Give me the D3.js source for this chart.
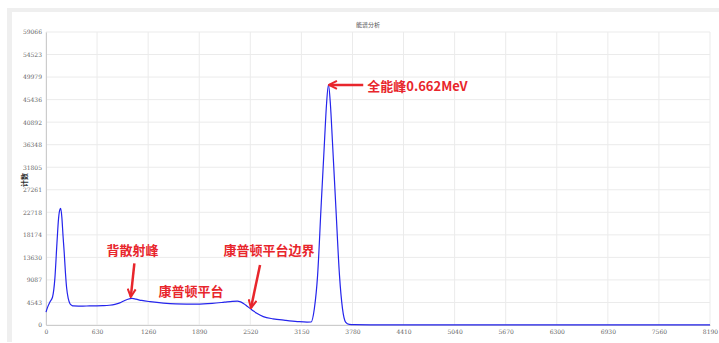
<!DOCTYPE html>
<html lang="zh">
<head>
<meta charset="UTF-8">
<title>能谱分析</title>
<style>
  body { margin: 0; background: #fff; }
  .tick text { font-family: "DejaVu Serif", serif; font-size: 6px; fill: #666; }
  .grid line { stroke: #ebebeb; stroke-width: 1; }
  .note { font-family: "Noto Sans CJK SC", sans-serif; font-weight: 700; fill: #e8262c; font-size: 13px; }
</style>
</head>
<body>
<div id="chart"></div>
<script src="https://d3js.org/d3.v7.min.js"></script>
<script>
// spectrum
const channels = [0, 20, 50, 80, 110, 135, 155, 170, 181, 195, 210, 225, 240, 255, 275, 296, 320, 340,
  400, 500, 600, 700, 780, 850, 910, 960, 1010, 1060, 1110, 1180, 1283, 1447, 1600, 1858, 2050, 2200,
  2300, 2360, 2400, 2440, 2480, 2520, 2560, 2600, 2680, 2800, 2950, 3100, 3220, 3270, 3310, 3350,
  3392, 3435, 3460, 3484, 3508, 3533, 3576, 3620, 3657, 3695, 3740, 3800, 4000, 5000, 6000, 7000, 8190];
const counts = [2600, 3600, 4700, 5600, 9500, 16500, 21500, 23200, 23500, 21800, 18000, 14500, 10500, 7400, 5300, 4300, 3950, 3850,
  3820, 3830, 3860, 3900, 3980, 4150, 4450, 4850, 5200, 5350, 5200, 4950, 4700, 4400, 4250, 4200, 4350, 4600,
  4780, 4800, 4650, 4300, 3800, 3300, 2800, 2350, 1700, 1250, 950, 700, 580, 600, 3300, 10000,
  23500, 37000, 44500, 48400, 44500, 37000, 23500, 10000, 3300, 600, 120, 60, 45, 40, 40, 40, 40];

const xTicks = [0, 630, 1260, 1890, 2520, 3150, 3780, 4410, 5040, 5670, 6300, 6930, 7560, 8190];
const yTicks = [0, 4543, 9087, 13630, 18174, 22718, 27261, 31805, 36348, 40892, 45436, 49979, 54523, 59066];

const notes = [
  { text: "全能峰0.662MeV", ch: 3963, v: 48200, anchor: "start", from: [3913, 48400], to: [3490, 48400] },
  { text: "背散射峰", ch: 1067, v: 14975, anchor: "middle", from: [1090, 12430], to: [1046, 5660] },
  { text: "康普顿平台", ch: 1788, v: 6712, anchor: "middle", from: null, to: null },
  { text: "康普顿平台边界", ch: 2750, v: 14975, anchor: "middle", from: [2640, 12100], to: [2528, 3430] }
];

const W = 719, H = 343;
const margin = { left: 46, right: 9, top: 32, bottom: 18 };

const svg = d3.select("#chart").append("svg").attr("width", W).attr("height", H);

// frame
svg.append("rect").attr("x", 7).attr("y", 8).attr("width", W - 7).attr("height", H - 9).attr("fill", "#efefef");
svg.append("rect").attr("x", 12).attr("y", 12).attr("width", W - 12).attr("height", H - 13).attr("fill", "#fff");

const x = d3.scaleLinear().domain([0, 8190]).range([margin.left, W - margin.right]);
const y = d3.scaleLinear().domain([0, 59066]).range([H - margin.bottom, margin.top]);

// grid
svg.append("g").attr("class", "grid")
  .selectAll("line.v").data(xTicks).join("line")
  .attr("x1", d => x(d)).attr("x2", d => x(d)).attr("y1", y(0)).attr("y2", y(59066));
svg.append("g").attr("class", "grid")
  .selectAll("line.h").data(yTicks).join("line")
  .attr("x1", x(0)).attr("x2", x(8190)).attr("y1", d => y(d)).attr("y2", d => y(d));

// axes
const xAxis = svg.append("g").attr("transform", `translate(0,${y(0)})`)
  .call(d3.axisBottom(x).tickValues(xTicks).tickSize(0).tickPadding(5).tickFormat(d3.format("d")));
const yAxis = svg.append("g").attr("transform", `translate(${x(0)},0)`)
  .call(d3.axisLeft(y).tickValues(yTicks).tickSize(0).tickPadding(4).tickFormat(d3.format("d")));
xAxis.select(".domain").attr("stroke", "#ccc");
yAxis.select(".domain").attr("stroke", "#ccc");

// title + y label
svg.append("text").attr("x", 368).attr("y", 27).attr("text-anchor", "middle")
  .style("font-family", "Noto Sans CJK SC").style("font-size", "6px").attr("fill", "#555").text("能谱分析");
svg.append("text").attr("transform", "translate(27,180) rotate(-90)").attr("text-anchor", "middle")
  .style("font-family", "Noto Sans CJK SC").style("font-size", "7px").style("font-weight", 700)
  .attr("fill", "#333").text("计数");

// spectrum line
const pts = channels.map((c, i) => [c, counts[i]]);
const line = d3.line().x(d => x(d[0])).y(d => y(d[1])).curve(d3.curveMonotoneX);
svg.append("path").datum(pts).attr("d", line)
  .attr("fill", "none").attr("stroke", "#2525ec").attr("stroke-width", 1.2);

// arrows
svg.append("defs").append("marker")
  .attr("id", "head").attr("viewBox", "0 0 10 10").attr("refX", 9).attr("refY", 5)
  .attr("markerWidth", 4).attr("markerHeight", 4).attr("orient", "auto")
  .append("path").attr("d", "M1,1 L9,5 L1,9").attr("fill", "none")
  .attr("stroke", "#e8262c").attr("stroke-width", 2);

notes.forEach(n => {
  svg.append("text").attr("class", "note").attr("text-anchor", n.anchor)
    .attr("x", x(n.ch)).attr("y", y(n.v)).attr("dy", "0.36em").text(n.text);
  if (n.from) {
    svg.append("line")
      .attr("x1", x(n.from[0])).attr("y1", y(n.from[1]))
      .attr("x2", x(n.to[0])).attr("y2", y(n.to[1]))
      .attr("stroke", "#e8262c").attr("stroke-width", 2.5)
      .attr("marker-end", "url(#head)");
  }
});
</script>
</body>
</html>
